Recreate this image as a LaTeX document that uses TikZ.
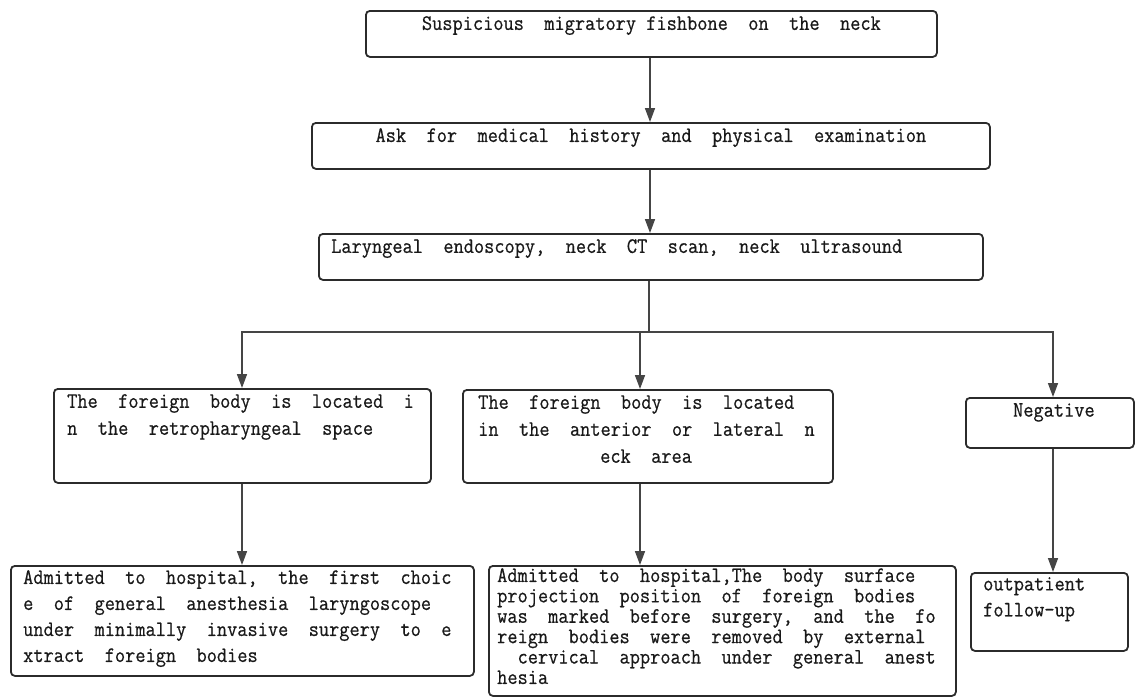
\documentclass[tikz,border=0pt]{standalone}
\usepackage{fontspec}
\setmonofont{Latin Modern Mono}[FakeStretch=0.9, FakeBold=0.6]
\usepackage{tikz}
\usetikzlibrary{positioning, arrows.meta}
\definecolor{boxgray}{HTML}{2B2B2B}
\definecolor{linegray}{HTML}{454545}

\begin{document}
\begin{tikzpicture}[x=1pt, y=-1pt,
    box/.style={draw=boxgray, line width=1.8pt, rounded corners=4pt, anchor=north west, inner sep=0pt},
    txt/.style={font=\ttfamily\fontsize{22}{26}\selectfont, text=black!90, align=left, inner sep=0pt, anchor=north west},
    dense/.style={font=\ttfamily\fontsize{22}{20.4}\selectfont},
    arr/.style={draw=linegray, line width=1.6pt, -{Triangle[length=14pt, width=10pt]}},
    link/.style={draw=linegray, line width=1.6pt}]
    \useasboundingbox (0,0) rectangle (1135,697);

    % Main column
    \node[box, minimum width=571pt, minimum height=46pt] (fish) at (365,10) {};
    \node[box, minimum width=678pt, minimum height=46pt] (hist) at (311,122) {};
    \node[box, minimum width=664pt, minimum height=46pt] (scan) at (318,233) {};
    \node[txt, anchor=north, align=center] (fishtxt) at ([yshift=-6pt]fish.north) {Suspicious~~migratory fishbone~~on~~the~~neck};
    \node[txt, anchor=north, align=center] (histtxt) at ([yshift=-6pt]hist.north) {Ask~~for~~medical~~history~~and~~physical~~examination};
    \node[txt] (scantxt) at ([shift={(13,6)}]scan.north west) {Laryngeal~~endoscopy,~~neck~~CT~~scan,~~neck~~ultrasound};

    % Findings
    \node[box, minimum width=377pt, minimum height=94pt] (retro) at (53,388) {};
    \node[box, minimum width=370pt, minimum height=93pt] (ant) at (462,389) {};
    \node[box, minimum width=168pt, minimum height=50pt] (neg) at (965,397) {};
    \node[txt, font=\ttfamily\fontsize{22}{27}\selectfont] (retrotxt) at ([shift={(14,6)}]retro.north west)
        {The~~foreign~~body~~is~~located~~i\\n~~the~~retropharyngeal~~space};
    \node[txt, font=\ttfamily\fontsize{22}{27}\selectfont] (anttxt) at ([shift={(16,6)}]ant.north west)
        {The~~foreign~~body~~is~~located\\in~~the~~anterior~~or~~lateral~~n\\\hspace*{122pt}eck~~area};
    \node[txt, anchor=north] (negtxt) at ([shift={(4,6)}]neg.north) {Negative};

    % Treatment
    \node[box, minimum width=463pt, minimum height=110pt] (endo) at (10,565) {};
    \node[box, minimum width=467pt, minimum height=130pt] (ext) at (488,565) {};
    \node[box, minimum width=157pt, minimum height=78pt] (follow) at (970,572) {};
    \node[txt] (endotxt) at ([shift={(13,5)}]endo.north west)
        {Admitted~~to~~hospital,~~the~~first~~choic\\e~~of~~general~~anesthesia~~laryngoscope\\under~~minimally~~invasive~~surgery~~to~~e\\xtract~~foreign~~bodies};
    \node[txt, dense] (exttxt) at ([shift={(9,3)}]ext.north west)
        {Admitted~~to~~hospital,The~~body~~surface\\projection~~position~~of~~foreign~~bodies\\was~~marked~~before~~surgery,~~and~~the~~fo\\reign~~bodies~~were~~removed~~by~~external\\~~cervical~~approach~~under~~general~~anest\\hesia};
    \node[txt] (followtxt) at ([shift={(13,5)}]follow.north west) {outpatient\\follow-up};

    % Connectors
    \coordinate (spine) at (650,0);
    \draw[arr] (fish.south -| spine) -- (hist.north -| spine);
    \draw[arr] (hist.south -| spine) -- (scan.north -| spine);

    \coordinate (split) at (649,332);
    \coordinate (jl) at (242,332);
    \coordinate (jc) at (640,332);
    \coordinate (jr) at (1053,332);
    \draw[link] (scan.south -| split) -- (split);
    \draw[link, line cap=rect] (jl) -- (jr);
    \foreach \j/\b in {jl/retro, jc/ant, jr/neg} {
        \draw[arr] (\j) -- (\j |- \b.north);
    }
    \draw[arr] (retro.south -| jl) -- (endo.north -| jl);
    \draw[arr] (ant.south -| jc) -- (ext.north -| jc);
    \draw[arr] (neg.south -| jr) -- (follow.north -| jr);
\end{tikzpicture}
\end{document}
